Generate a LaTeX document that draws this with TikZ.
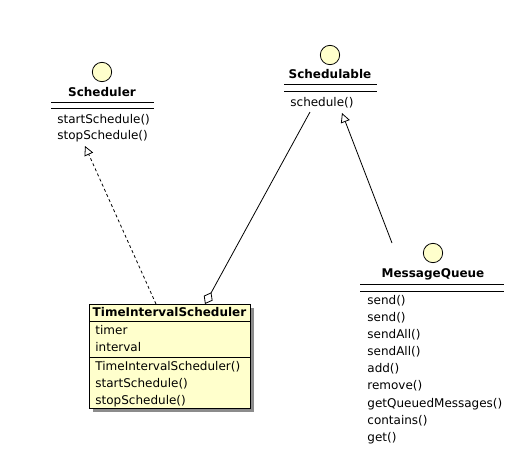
\documentclass[tikz,border=0pt]{standalone}
\usepackage{fontspec}
\setmainfont{DejaVu Sans}
\usetikzlibrary{arrows.meta,shadows}
\definecolor{umlyellow}{RGB}{255,255,204}
\tikzset{
  iface/.style={circle,draw,fill=umlyellow,minimum size=14.5pt,inner sep=0pt},
  cname/.style={font=\fontsize{9}{10}\selectfont\bfseries,inner sep=0pt,text height=6.6pt,text depth=0pt},
  member/.style={font=\fontsize{9}{10}\selectfont,anchor=west,inner sep=0pt,text height=6.6pt,text depth=0pt},
  classbox/.style={draw,fill=umlyellow,inner sep=0pt,
    drop shadow={shadow xshift=3pt,shadow yshift=-3pt,fill=black!45,opacity=1}},
  realize/.style={-{Triangle[open,length=7pt,width=7pt]}},
  realizedash/.style={realize,dash pattern=on 2.2pt off 2pt},
  aggr/.style={{Diamond[open,length=10pt,width=7.5pt]}-}
}
\begin{document}
\begin{tikzpicture}[x=0.75pt,y=-0.75pt,line width=0.6pt]
\useasboundingbox (0,0) rectangle (515,458);

% Scheduler interface
\node[iface] (schedIcon) at (102,72) {};
\node[cname] (schedName) at (102,92) {Scheduler};
\draw (51,102) -- (154,102);
\draw (51,108) -- (154,108);
\node[member] (schedStart) at (57,119) {startSchedule()};
\node[member] (schedStop) at (57,135) {stopSchedule()};
\coordinate (schedIn) at (85,146);

% Schedulable interface
\node[iface] (ablIcon) at (330,55) {};
\node[cname] (ablName) at (330,74) {Schedulable};
\draw (284,84) -- (377,84);
\draw (284,91) -- (377,91);
\node[member] (ablSched) at (290,102) {schedule()};
\coordinate (ablLeft) at (310,112);
\coordinate (ablRight) at (342,113);

% MessageQueue interface
\node[iface] (mqIcon) at (433,253) {};
\node[cname] (mqName) at (433,273) {MessageQueue};
\draw (360,284) -- (504,284);
\draw (360,291) -- (504,291);
\foreach \m [count=\i from 0] in {send(),send(),sendAll(),sendAll(),add(),remove(),getQueuedMessages(),contains(),get()}
  \node[member] (mq\i) at (367,{300+17.1*\i}) {\m};
\coordinate (mqTop) at (392,243);

% TimeIntervalScheduler class
\node[classbox,minimum width=120.75pt,minimum height=78pt] (tis) at (169.5,356) {};
\node[cname] (tisName) at (169.5,312) {TimeIntervalScheduler};
\draw (89,321) -- (250,321);
\node[member] (tisTimer) at (95,330) {timer};
\node[member] (tisInterval) at (95,347) {interval};
\draw (89,357) -- (250,357);
\node[member] (tisCtor) at (95,366) {TimeIntervalScheduler()};
\node[member] (tisStart) at (95,383) {startSchedule()};
\node[member] (tisStop) at (95,400) {stopSchedule()};
\coordinate (tisTopA) at (156,304);
\coordinate (tisTopB) at (205,304);

% relations
\draw[realizedash] (tisTopA) -- (schedIn);
\draw[aggr] (tisTopB) -- (ablLeft);
\draw[realize] (mqTop) -- (ablRight);
\end{tikzpicture}
\end{document}
